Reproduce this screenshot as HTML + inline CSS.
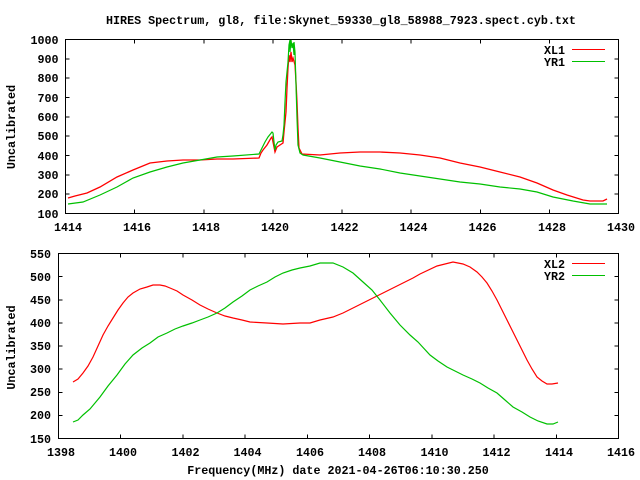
<!DOCTYPE html>
<html>
<head>
<meta charset="utf-8">
<style>
html,body{margin:0;padding:0;background:#fff;}
svg{display:block;}
text{font-family:"Liberation Mono","DejaVu Sans Mono",monospace;font-weight:bold;font-size:11.7px;fill:#000;}
</style>
</head>
<body>
<svg width="640" height="480" viewBox="0 0 640 480" xmlns="http://www.w3.org/2000/svg">
<rect width="640" height="480" fill="#fff"/>
<!-- Title -->
<text x="341" y="24" text-anchor="middle">HIRES Spectrum, gl8, file:Skynet_59330_gl8_58988_7923.spect.cyb.txt</text>

<!-- ===== TOP PLOT ===== -->
<g stroke="#000" stroke-width="1" fill="none" shape-rendering="crispEdges">
<rect x="65.5" y="39.5" width="553" height="174"/>
<path d="M65.5 58.8h4M618.5 58.8h-4 M65.5 78.2h4M618.5 78.2h-4 M65.5 97.5h4M618.5 97.5h-4 M65.5 116.8h4M618.5 116.8h-4 M65.5 136.2h4M618.5 136.2h-4 M65.5 155.5h4M618.5 155.5h-4 M65.5 174.8h4M618.5 174.8h-4 M65.5 194.2h4M618.5 194.2h-4"/>
<path d="M134.6 213.5v-4M134.6 39.5v4 M203.8 213.5v-4M203.8 39.5v4 M272.9 213.5v-4M272.9 39.5v4 M342 213.5v-4M342 39.5v4 M411.1 213.5v-4M411.1 39.5v4 M480.3 213.5v-4M480.3 39.5v4 M549.4 213.5v-4M549.4 39.5v4"/>
</g>
<g text-anchor="end">
<text x="58.5" y="44">1000</text>
<text x="58.5" y="63">900</text>
<text x="58.5" y="82">800</text>
<text x="58.5" y="102">700</text>
<text x="58.5" y="121">600</text>
<text x="58.5" y="140">500</text>
<text x="58.5" y="160">400</text>
<text x="58.5" y="179">300</text>
<text x="58.5" y="198">200</text>
<text x="58.5" y="218">100</text>
</g>
<g text-anchor="middle">
<text x="68" y="231">1414</text>
<text x="137" y="231">1416</text>
<text x="206" y="231">1418</text>
<text x="275" y="231">1420</text>
<text x="344.5" y="231">1422</text>
<text x="413.5" y="231">1424</text>
<text x="482.5" y="231">1426</text>
<text x="552" y="231">1428</text>
<text x="621" y="231">1430</text>
</g>
<text transform="translate(15,127) rotate(-90)" text-anchor="middle">Uncalibrated</text>
<!-- legend -->
<text x="565" y="54" text-anchor="end">XL1</text>
<text x="565" y="66" text-anchor="end">YR1</text>
<path d="M572 49.5H605" stroke="#ff0000" stroke-width="1" shape-rendering="crispEdges"/>
<path d="M572 61.5H605" stroke="#00c000" stroke-width="1" shape-rendering="crispEdges"/>
<!-- series -->
<polyline fill="none" stroke="#ff0000" stroke-width="1.3" stroke-linejoin="miter" points="68,198 75,196 87,193 100,187 117,177 133,170 150,163 167,161 183,160 200,160 217,159 233,159 259,158 261,153 263,150 267,145 271,138 272,137 273,142 275,152 277,147 280,145 283,143 284,132 286,112 287,88 288,68 289,55 290,62 291,52 292,62 293,58 295,65 296,82 297,102 298,128 299,148 302,154 320,155 340,153 360,152 380,152 400,153 420,155 440,158 460,163 480,167 500,172 520,177 537,183 553,190 567,195 583,200 590,201 603,201 607,199"/>
<polyline fill="none" stroke="#00c000" stroke-width="1.2" stroke-linejoin="miter" points="68,204 83,202 100,195 117,187 133,178 150,172 167,167 183,163 200,160 217,157 233,156 259,154 262,148 265,142 268,137 272,132 273,133 274,142 275,150 276,145 278,142 282,141 283,135 284,125 285,102 286,82 288,62 289,45 290,40 290,52 291,40 292,48 293,43 294,55 294,42 295,52 296,85 297,118 298,145 300,153 303,155 320,158 340,162 360,166 380,169 400,173 420,176 440,179 460,182 480,184 500,187 520,189 537,192 553,197 573,201 590,204 607,204"/>

<!-- ===== BOTTOM PLOT ===== -->
<g stroke="#000" stroke-width="1" fill="none" shape-rendering="crispEdges">
<rect x="58.5" y="253.5" width="560" height="185"/>
<path d="M58.5 276.6h4M618.5 276.6h-4 M58.5 299.8h4M618.5 299.8h-4 M58.5 322.9h4M618.5 322.9h-4 M58.5 346h4M618.5 346h-4 M58.5 369.1h4M618.5 369.1h-4 M58.5 392.3h4M618.5 392.3h-4 M58.5 415.4h4M618.5 415.4h-4"/>
<path d="M120.7 438.5v-4M120.7 253.5v4 M182.9 438.5v-4M182.9 253.5v4 M245.2 438.5v-4M245.2 253.5v4 M307.4 438.5v-4M307.4 253.5v4 M369.6 438.5v-4M369.6 253.5v4 M431.8 438.5v-4M431.8 253.5v4 M494.1 438.5v-4M494.1 253.5v4 M556.3 438.5v-4M556.3 253.5v4"/>
</g>
<g text-anchor="end">
<text x="51" y="258">550</text>
<text x="51" y="281">500</text>
<text x="51" y="304">450</text>
<text x="51" y="327">400</text>
<text x="51" y="350">350</text>
<text x="51" y="373">300</text>
<text x="51" y="396">250</text>
<text x="51" y="419">200</text>
<text x="51" y="443">150</text>
</g>
<g text-anchor="middle">
<text x="61" y="456">1398</text>
<text x="123" y="456">1400</text>
<text x="185.5" y="456">1402</text>
<text x="247.5" y="456">1404</text>
<text x="310" y="456">1406</text>
<text x="372" y="456">1408</text>
<text x="434.5" y="456">1410</text>
<text x="496.5" y="456">1412</text>
<text x="559" y="456">1414</text>
<text x="621" y="456">1416</text>
</g>
<text transform="translate(15,347.5) rotate(-90)" text-anchor="middle">Uncalibrated</text>
<text x="338" y="474" text-anchor="middle">Frequency(MHz) date 2021-04-26T06:10:30.250</text>
<!-- legend -->
<text x="565" y="268" text-anchor="end">XL2</text>
<text x="565" y="280" text-anchor="end">YR2</text>
<path d="M572 263.5H605" stroke="#ff0000" stroke-width="1" shape-rendering="crispEdges"/>
<path d="M572 275.5H605" stroke="#00c000" stroke-width="1" shape-rendering="crispEdges"/>
<!-- series -->
<polyline fill="none" stroke="#ff0000" stroke-width="1.2" points="73,382 78,379 83,373 88,366 93,357 98,346 103,335 108,326 113,318 118,310 123,303 128,297 133,293 140,289 147,287 153,285 160,285 165,286 170,288 177,291 183,295 192,300 200,305 208,309 217,313 225,316 233,318 242,320 250,322 267,323 283,324 300,323 310,323 320,320 333,317 343,313 353,308 363,303 373,298 383,293 393,288 403,283 413,278 420,274 437,266 453,262 463,264 470,267 477,272 482,277 487,283 492,291 497,300 502,310 507,320 512,330 517,340 522,350 527,360 532,369 537,377 542,381 547,384 552,384 558,383"/>
<polyline fill="none" stroke="#00c000" stroke-width="1.2" points="73,422 78,420 83,415 90,409 100,397 108,386 117,375 125,364 133,355 142,348 150,343 158,337 167,333 175,329 183,326 192,323 200,320 208,317 217,313 225,308 233,302 242,296 250,290 258,286 267,282 275,277 283,273 292,270 300,268 310,266 320,263 333,263 343,267 353,273 363,282 372,290 380,300 390,313 400,325 410,335 418,342 430,355 438,361 447,367 455,371 463,375 472,379 480,383 488,388 497,393 505,400 513,407 522,412 530,417 538,421 547,424 553,424 558,422"/>
</svg>
</body>
</html>
